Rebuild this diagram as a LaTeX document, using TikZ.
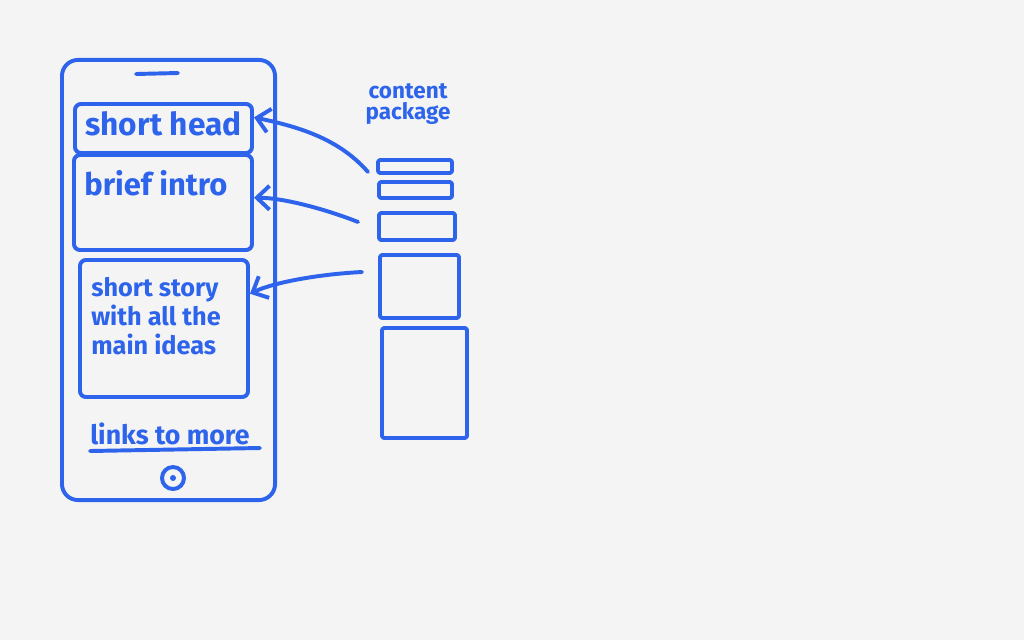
\documentclass[tikz,border=0pt]{standalone}
\usepackage{fontspec}
\setmainfont{Fira Sans}
\usetikzlibrary{arrows.meta}
\definecolor{pen}{RGB}{45,100,235}
\definecolor{paper}{RGB}{244,244,244}

\tikzset{
  ink/.style={draw=pen, line width=2.8pt, line cap=round, line join=round},
  panel/.style={ink, rounded corners=0.15cm, inner sep=0pt},
  slot/.style={ink, rounded corners=0.06cm, inner sep=0pt},
  scribble/.style={text=pen, inner sep=0pt},
  pointer/.style={ink, -{Straight Barb[length=9pt,width=17pt]}},
}

\begin{document}
\begin{tikzpicture}[x=0.025cm, y=-0.025cm]
  % Background sheet
  \fill[paper] (0,0) rectangle (1024,640);
  \useasboundingbox (0,0) rectangle (1024,640);

  % Phone body with speaker and home button
  \node[ink, rounded corners=0.4cm, minimum width=5.325cm, minimum height=11cm] (phone) at (168.5,280) {};
  \draw[ink] (136,74) -- (178,73);
  \node[ink, circle, minimum size=0.55cm, inner sep=0pt] (homebtn) at (173,478) {};
  \fill[pen] (homebtn) circle (3);

  % Screen blocks
  \node[panel, minimum width=4.425cm, minimum height=1.225cm] (head) at (163.5,128.5) {};
  \node[scribble, font=\bfseries\fontsize{22.5}{24}\selectfont] (headtxt) at (163.5,124) {short head};
  \node[panel, minimum width=4.45cm, minimum height=2.375cm] (intro) at (163,202.5) {};
  \node[scribble, anchor=west, font=\bfseries\fontsize{22}{24}\selectfont] (introtxt) at (84,183) {brief intro};
  \node[panel, minimum width=4.2cm, minimum height=3.425cm] (story) at (164,328.5) {};
  \node[scribble, anchor=west, align=left, font=\bfseries\fontsize{18}{20.5}\selectfont] (storytxt) at (91,316) {short story\\with all the\\main ideas};

  % Links at the bottom
  \node[scribble, anchor=west, font=\bfseries\fontsize{19}{20}\selectfont] (links) at (90,434) {links to more};
  \draw[ink] (90,451) -- (260,448);

  % Content package pieces
  \node[scribble, align=center, font=\bfseries\fontsize{16}{15.5}\selectfont] (pkgtxt) at (408,104) {content\\package};
  \node[slot, minimum width=1.85cm, minimum height=0.325cm] (pkg1) at (415,166.5) {};
  \node[slot, minimum width=1.825cm, minimum height=0.4cm] (pkg2) at (415.5,190) {};
  \node[slot, minimum width=1.9cm, minimum height=0.675cm] (pkg3) at (417,226.5) {};
  \node[slot, minimum width=1.975cm, minimum height=1.575cm] (pkg4) at (419.5,286.5) {};
  \node[slot, minimum width=2.125cm, minimum height=2.75cm] (pkg5) at (424.5,383) {};

  % Arrows into the screen
  \coordinate (from1) at (368,172);
  \coordinate (from2) at (358,222);
  \coordinate (from3) at (362,272);
  \draw[pointer] (from1) .. controls +(-28,-32) and +(48,10) .. (head.7);
  \draw[pointer] (from2) .. controls +(-30,-12) and +(30,0) .. (intro.3);
  \draw[pointer] (from3) .. controls +(-40,2) and +(25,-12) .. (story.22);
\end{tikzpicture}
\end{document}
